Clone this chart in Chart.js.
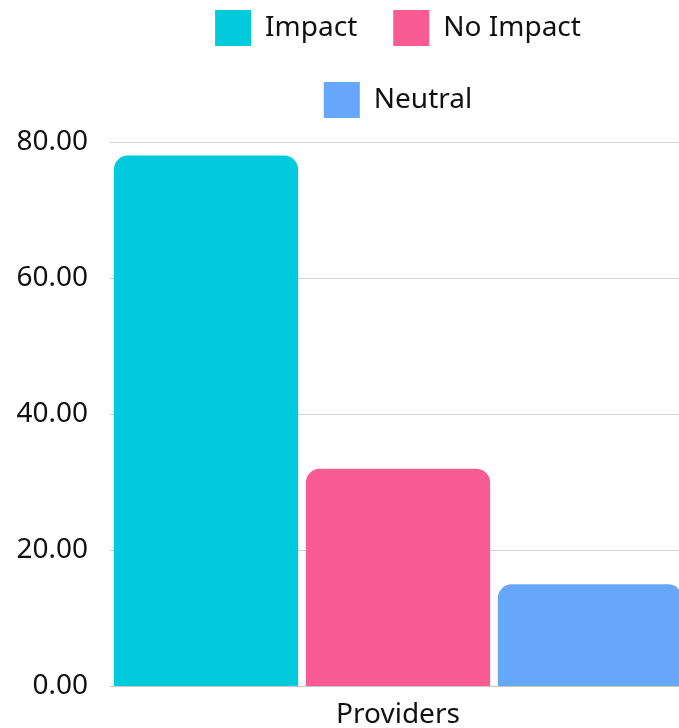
<!DOCTYPE html>
<html>
<head>
<meta charset="utf-8">
<title>Providers</title>
<script src="https://cdn.jsdelivr.net/npm/chart.js@4/dist/chart.umd.min.js"></script>
<style>
  html, body { margin: 0; padding: 0; background: #fff; overflow: hidden; }
  /* a little wider than the window: the last bar runs off the right edge in the reference */
  #wrap { position: relative; width: 686px; height: 728px; }
</style>
</head>
<body>
<div id="wrap"><canvas id="providersChart"></canvas></div>
<script>
// chart data
const categories = ["Providers"];
const seriesNames = ["Impact", "No Impact", "Neutral"];
const seriesValues = [[78], [32], [15]];
const seriesColors = ["#00CADC", "#F95C93", "#66A7FA"];
const yTicks = [0, 20, 40, 60, 80];

const FONT = "'Noto Sans', 'Open Sans', sans-serif";

function buildDatasets(){
  return seriesNames.map((name, i) => ({
    label: name,
    data: seriesValues[i],
    backgroundColor: seriesColors[i],
    borderWidth: 0,
    borderRadius: 14,
    borderSkipped: 'start'
  }));
}

function buildChart(){
  const ctx = document.getElementById("providersChart").getContext("2d");
  window._providersChart = new Chart(ctx, {
    type: 'bar',
    data: { labels: categories, datasets: buildDatasets() },
    options: {
      responsive: true,
      maintainAspectRatio: false,
      animation: false,
      layout: { padding: { top: -26, left: 10, right: 0, bottom: -16 } },
      datasets: { bar: { categoryPercentage: 1, barPercentage: 0.96 } },
      scales: {
        x: {
          grid: { display: false, drawTicks: false },
          border: { display: true, color: '#c8c8c8' },
          ticks: { color: '#111', padding: 12, font: { family: FONT, size: 28 } }
        },
        y: {
          min: yTicks[0],
          max: yTicks[yTicks.length - 1],
          afterBuildTicks: (axis) => { axis.ticks = yTicks.map(v => ({ value: v })); },
          afterFit: (axis) => { axis.width = 100; },
          grid: { color: '#d4d4d4', lineWidth: 1, drawTicks: false },
          border: { display: false },
          ticks: {
            color: '#111',
            padding: 22,
            font: { family: FONT, size: 28 },
            callback: (v) => Number(v).toFixed(2)
          }
        }
      },
      plugins: {
        legend: {
          position: 'top',
          fullSize: false,
          labels: {
            color: '#111',
            boxWidth: 36,
            boxHeight: 36,
            padding: 36,
            font: { family: FONT, size: 28 }
          }
        },
        subtitle: {
          display: true,
          text: '',
          weight: 500,
          font: { size: 2, lineHeight: 1 },
          padding: { top: 0, bottom: 12 }
        },
        tooltip: { enabled: false }
      }
    }
  });
}

window.addEventListener("load", buildChart);
</script>
</body>
</html>
